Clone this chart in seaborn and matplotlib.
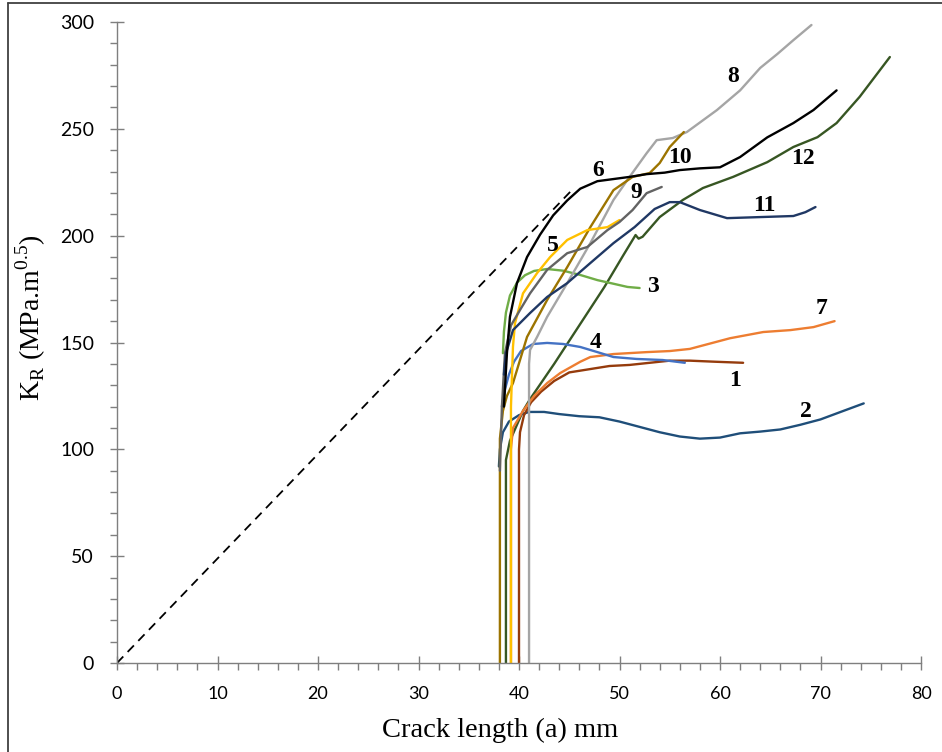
import numpy as np
import pandas as pd
import seaborn as sns
import matplotlib
matplotlib.use("Agg")
import matplotlib.pyplot as plt
from matplotlib.ticker import MultipleLocator
from matplotlib.lines import Line2D

# Crack length (mm) and K_R (MPa.m^0.5) for each specimen
a1 = [40.0, 40.0, 40.1, 40.5, 41.2, 42.2, 43.5, 45.0, 47.0, 49.0, 51.0, 53.0, 55.0, 57.0, 59.5, 62.3]
k1 = [0, 100, 108, 116, 122, 127, 132, 136, 137.5, 139, 139.5, 140.5, 141.5, 141.5, 141, 140.5]

a2 = [38.0, 38.1, 38.4, 39.0, 40.0, 41.0, 42.5, 44.0, 46.0, 48.0, 50.0, 52.0, 54.0, 56.0, 58.0,
      60.0, 62.0, 64.0, 66.0, 68.0, 70.0, 72.0, 74.3]
k2 = [92, 100, 108, 113, 116, 117.5, 117.5, 116.5, 115.5, 115, 113, 110.5, 108, 106, 105,
      105.5, 107.5, 108.3, 109.3, 111.5, 114, 117.5, 121.5]

a3 = [38.4, 38.5, 38.7, 39.1, 39.8, 40.6, 41.5, 42.8, 44.4, 46.1, 47.8, 49.4, 50.8, 52.0]
k3 = [145, 155, 164, 172, 178, 181.5, 183.5, 184.4, 183.6, 181.6, 179.2, 177.5, 176, 175.5]

a4 = [38.3, 38.6, 39.0, 39.5, 40.2, 41.4, 42.8, 44.4, 46.1, 47.8, 49.4, 51.7, 54.3, 56.5]
k4 = [120, 128, 135, 141, 146, 149.3, 149.8, 149.3, 147.9, 145.5, 143.2, 142.3, 141.8, 140.5]

a5 = [39.2, 39.2, 39.4, 39.6, 40.4, 41.8, 43.1, 44.8, 46.8, 48.8, 50.0]
k5 = [0, 120, 148, 159, 173, 182.5, 190, 198, 202.6, 204, 207.3]

a6 = [38.5, 38.8, 39.1, 39.8, 40.8, 42.1, 43.4, 44.8, 46.1, 47.8, 49.4, 51.0, 52.7, 54.5, 56.0,
      58.0, 60.0, 62.0, 64.7, 67.3, 69.3, 71.6]
k6 = [120, 145, 162, 177.8, 190, 200.5, 209.5, 216.5, 222, 225.5, 226.5, 227.5, 228.8, 229.5, 230.7,
      231.5, 232, 236.8, 246, 252.7, 258.8, 268]

a7 = [39.2, 39.2, 39.4, 40.4, 41.5, 42.8, 44.1, 46.1, 47.1, 49.4, 52.7, 55.0, 57.0, 59.0, 61.0,
      64.3, 67.0, 69.3, 71.4]
k7 = [0, 100, 110, 118, 125, 131, 135.7, 141, 143.2, 144.6, 145.5, 146, 147, 149.5, 152,
      154.9, 155.8, 157.2, 160]

a8 = [41.0, 41.0, 41.1, 41.8, 42.8, 44.8, 47.1, 49.4, 51.0, 52.7, 53.7, 55.3, 56.7, 59.7, 62.0,
      64.0, 65.7, 67.3, 69.1]
k8 = [0, 140, 146.5, 152.6, 162, 177.8, 196.5, 216.7, 227.5, 238.6, 244.7, 245.7, 248.5, 258.8, 268,
      278.5, 285, 291.5, 298.6]

a9 = [38.1, 38.3, 38.6, 39.2, 40.2, 41.1, 42.8, 44.8, 46.8, 48.8, 50.0, 51.3, 52.7, 54.2]
k9 = [90, 120, 145, 158, 166, 173, 184, 191.8, 194.7, 202.6, 206.4, 212, 219.9, 222.8]

a10 = [38.1, 38.1, 38.4, 38.8, 39.4, 40.8, 42.8, 44.8, 47.1, 49.4, 51.3, 53.0, 54.0, 55.0, 56.4]
k10 = [0, 105, 118, 125, 131, 152.6, 169.9, 185.3, 204, 221.3, 227.5, 229.3, 234, 241.5, 248.5]

a11 = [38.5, 38.7, 39.1, 39.4, 41.1, 42.8, 44.8, 47.1, 49.4, 51.5, 53.5, 55.0, 56.0, 58.0, 60.7,
       64.0, 67.3, 68.5, 69.5]
k11 = [135, 145, 151, 155.8, 163.8, 171.3, 177.8, 187.2, 196.5, 204, 212.5, 215.7, 215.7, 212, 208.2,
       208.7, 209.2, 211, 213.4]

a12 = [38.7, 38.7, 39.1, 40.4, 41.1, 43.5, 46.0, 48.5, 50.4, 51.6, 51.9, 52.3, 54.0, 56.3, 58.3,
       61.3, 64.7, 67.3, 69.7, 71.6, 73.9, 76.9]
k12 = [0, 95, 104, 118, 123.5, 140, 158, 176, 191, 200.3, 198.6, 199.5, 208.7, 216.7, 222.3,
       227.5, 234.4, 241.5, 246.1, 252.7, 265, 283.6]

# dashed reference line
a_ref = [0, 45.4]
k_ref = [0, 222]

names = ['1', '2', '3', '4', '5', '6', '7', '8', '9', '10', '11', '12']
colors = ['#953B0C', '#1F4E79', '#70AD47', '#4472C4', '#FFC000', '#000000',
          '#ED7D31', '#A5A5A5', '#636363', '#9C7400', '#203864', '#375623']
curves = [(a1, k1), (a2, k2), (a3, k3), (a4, k4), (a5, k5), (a6, k6),
          (a7, k7), (a8, k8), (a9, k9), (a10, k10), (a11, k11), (a12, k12)]

# label positions (curve number next to each curve)
lab_x = [61.5, 68.5, 53.3, 47.6, 43.4, 47.9, 70.1, 61.3, 51.7, 56.0, 64.4, 68.3]
lab_y = [132.4, 117.5, 176.0, 150.2, 195.6, 230.7, 165.7, 274.7, 220.0, 236.8, 213.9, 236.3]

sns.set_style("white")
plt.rcParams['font.family'] = ['Lato', 'DejaVu Sans']
plt.rcParams['mathtext.fontset'] = 'custom'
plt.rcParams['mathtext.rm'] = 'Liberation Serif'

fig = plt.figure(figsize=(9.42, 7.52), dpi=100)
ax = fig.add_axes([117/942, 1-663/752, (921-117)/942, (663-22)/752])

frames = []
for n, (a, k) in zip(names, curves):
    frames.append(pd.DataFrame({'a': a, 'K': k, 'spec': n}))
df = pd.concat(frames, ignore_index=True)

sns.lineplot(x=a_ref, y=k_ref, ax=ax, color='black', lw=1.3, linestyle=(0, (5, 3.5)),
             sort=False, estimator=None)
order = ['12', '2', '1', '7', '4', '3', '8', '10', '5', '9', '11', '6']
for n in order:
    sub = df[df.spec == n]
    sns.lineplot(data=sub, x='a', y='K', ax=ax, color=colors[names.index(n)], lw=1.7,
                 sort=False, estimator=None)

for n, x, y in zip(names, lab_x, lab_y):
    ax.text(x, y, n, fontsize=17, fontweight='bold', family='Liberation Serif',
            ha='center', va='center', color='black')

ax.set_xlim(0, 80)
ax.set_ylim(0, 300)
ax.xaxis.set_major_locator(MultipleLocator(10))
ax.xaxis.set_minor_locator(MultipleLocator(2))
ax.yaxis.set_major_locator(MultipleLocator(50))
ax.yaxis.set_minor_locator(MultipleLocator(10))

for s in ['top', 'right']:
    ax.spines[s].set_visible(False)
for s in ['left', 'bottom']:
    ax.spines[s].set_color('#7F7F7F')
    ax.spines[s].set_linewidth(1.0)

ax.tick_params(which='major', direction='inout', length=10, width=1, color='#7F7F7F',
               pad=11.5, left=True, bottom=True, labelcolor='black')
ax.tick_params(which='minor', direction='out', length=5, width=1, color='#7F7F7F',
               left=True, bottom=True)
ax.tick_params(axis='x', which='major', labelsize=13)
ax.tick_params(axis='y', which='major', labelsize=14)

ax.set_xlabel('Crack length (a) mm', family='Liberation Serif', fontsize=20.5, color='black')
ax.set_ylabel(r'K$_\mathregular{R}$ (MPa.m$^\mathregular{0.5}$)', family='Liberation Serif',
              fontsize=20, color='black')
ax.xaxis.set_label_coords(0.476, -0.085)
ax.yaxis.set_label_coords(-0.086, 0.538)

# frame around the figure (only top and left edges are visible in the crop)
fig.add_artist(Line2D([8/942, 1], [1-3/752, 1-3/752], transform=fig.transFigure,
                      color='#404040', lw=1.3))
fig.add_artist(Line2D([8/942, 8/942], [0, 1-3/752], transform=fig.transFigure,
                      color='#404040', lw=1.3))

fig.savefig('out.png', dpi=100)
